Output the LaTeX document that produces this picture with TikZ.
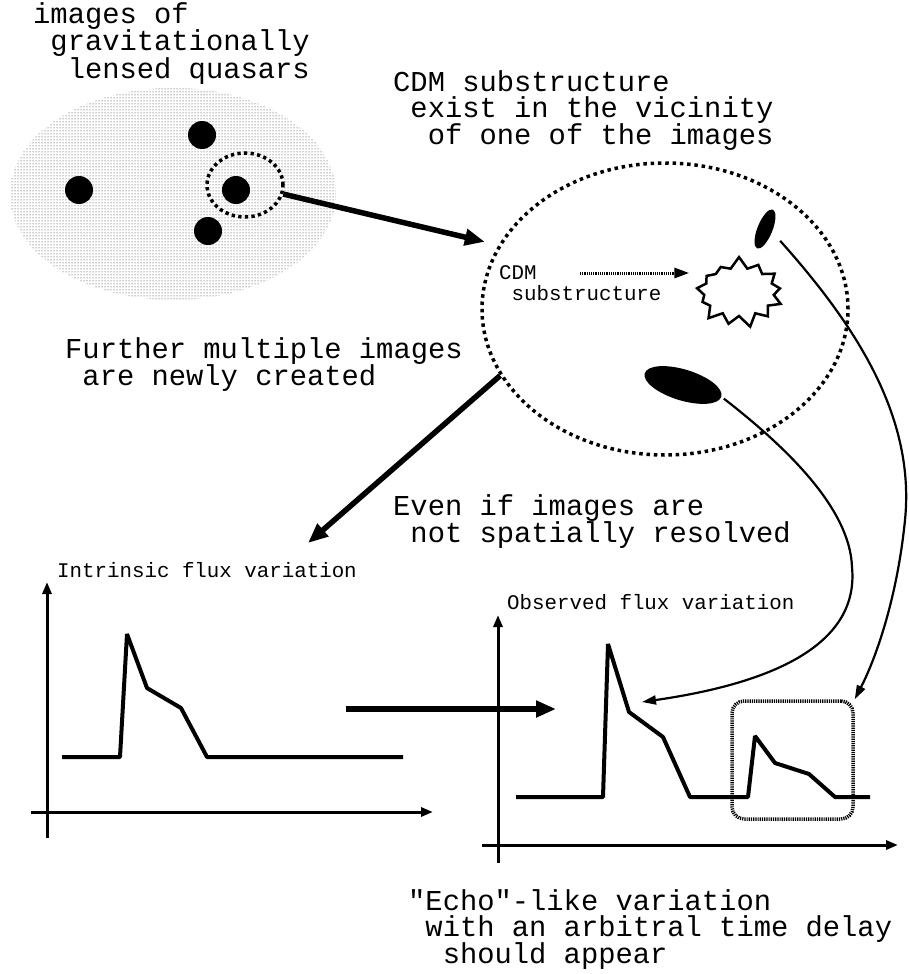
\documentclass[tikz,border=0pt]{standalone}
\usepackage{fontspec}
\setmonofont{Liberation Mono}
\usetikzlibrary{arrows.meta,shapes.geometric,shapes.symbols,patterns}

\newcommand{\bigtt}{\fontsize{28.8}{26}\selectfont\ttfamily}
\newcommand{\smalltt}{\fontsize{20.8}{21.5}\selectfont\ttfamily}

\tikzset{
  bigtext/.style={font=\bigtt, align=left, anchor=north west, inner sep=0pt},
  smalltext/.style={font=\smalltt, align=left, anchor=north west, inner sep=0pt},
  quasar/.style={circle, fill, inner sep=0pt, minimum size=28pt},
  blob/.style={ellipse, fill, inner sep=0pt},
  dotring/.style={ellipse, draw, inner sep=0pt, line width=3.5pt, dash pattern=on 3.5pt off 3.8pt},
  echobox/.style={draw, rounded corners=12pt, line width=3.5pt, dash pattern=on 1.2pt off 1pt},
  bigarrow/.style={-{Triangle[length=20pt,width=16pt]}, line width=5.5pt},
  lightarrow/.style={-{Triangle[length=14pt,width=9pt]}, line width=2.2pt},
  cdmarrow/.style={-{Triangle[length=15pt,width=10pt]}, line width=3pt, dash pattern=on 1.2pt off 1pt},
  axis/.style={-{Triangle[length=12pt,width=9pt]}, line width=3pt},
  flux/.style={line width=4pt, line join=bevel}
}

\begin{document}
\begin{tikzpicture}[x=1pt, y=-1pt]
  \useasboundingbox (0,0) rectangle (908,974);

  %% lensed images of the quasar
  \fill[pattern=dots, pattern color=black!85] (173,194) ellipse [x radius=163, y radius=106];
  \node[quasar] (qtop)   at (202,135) {};
  \node[quasar] (qleft)  at (79,190) {};
  \node[quasar] (qright) at (236,190) {};
  \node[quasar] (qlow)   at (208,231) {};
  \node[dotring, dash pattern=on 3.3pt off 3.3pt,
        minimum width=76pt, minimum height=64pt] (zoomring) at (245,185) {};

  %% close-up of one image
  \node[dotring, minimum width=366pt, minimum height=292pt] (field) at (665,309) {};
  \node[blob, rotate=68, minimum width=42pt, minimum height=15pt] (smallblob) at (765,229) {};
  \node[blob, rotate=-17, minimum width=80pt, minimum height=31pt] (bigblob) at (683,385) {};
  \node[starburst, draw, fill=white, line width=2.5pt, starburst points=13,
        starburst point height=12pt, random starburst=7,
        minimum width=94pt, minimum height=72pt] (cdm) at (739,292) {};
  \coordinate (cdmtail) at (580,273);

  %% texts
  \node[bigtext] (lensedtxt) at (33,2)
        {images of\\\hphantom{x}gravitationally\\\hphantom{xx}lensed quasars};
  \node[bigtext] (vicinitytxt) at (393,70)
        {CDM substructure\\\hphantom{x}exist in the vicinity\\\hphantom{xx}of one of the images};
  \node[bigtext] (furthertxt) at (65,337)
        {Further multiple images\\\hphantom{x}are newly created};
  \node[bigtext] (resolvedtxt) at (393,494)
        {Even if images are\\\hphantom{x}not spatially resolved};
  \node[bigtext] (echotxt) at (408,889)
        {"Echo"-like variation\\\hphantom{x}with an arbitral time delay\\\hphantom{xx}should appear};
  \node[smalltext] (cdmtxt) at (499,265) {CDM\\\hphantom{x}substructure};
  \node[smalltext] (intrtxt) at (57,562) {Intrinsic flux variation};
  \node[smalltext] (obstxt) at (507,594) {Observed flux variation};

  %% intrinsic light curve
  \draw[axis] (47,838) -- (47,582);
  \draw[axis] (31,812) -- (433,812);
  \draw[flux] (62,757) -- (120,757) -- (127,634) -- (147,688) -- (181,708)
        -- (207,757) -- (403,757);

  %% observed light curve
  \draw[axis] (498,863) -- (498,615);
  \draw[axis] (482,845) -- (898,845);
  \draw[flux] (516,797) -- (603,797) -- (608,644) -- (629,712) -- (663,737)
        -- (690,797) -- (748,797) -- (755,736) -- (775,763) -- (809,774)
        -- (835,797) -- (870,797);
  \node[echobox, minimum width=121pt, minimum height=118pt] (echo) at (792.5,760) {};
  \coordinate (intrtip) at (308,543);
  \coordinate (shiftfrom) at (346,709);
  \coordinate (shiftto) at (556,709);
  \coordinate (peakhit) at (642,702);

  %% arrows
  \draw[bigarrow, shorten >=14pt] (zoomring) -- (field.159);
  \draw[bigarrow] (field.202) -- (intrtip);
  \draw[bigarrow] (shiftfrom) -- (shiftto);
  \draw[cdmarrow, shorten >=10pt] (cdmtail) -- (cdmtail -| cdm.west);
  \draw[lightarrow, shorten <=3pt] (bigblob.east) .. controls (790,450) and (850,510) .. (852,567)
        .. controls (860,650) and (760,685) .. (peakhit);
  \draw[lightarrow, shorten <=12pt] (smallblob.south) .. controls (860,330) and (915,420) .. (905,520)
        .. controls (897,600) and (875,660) .. (echo.north east);

\end{tikzpicture}
\end{document}
